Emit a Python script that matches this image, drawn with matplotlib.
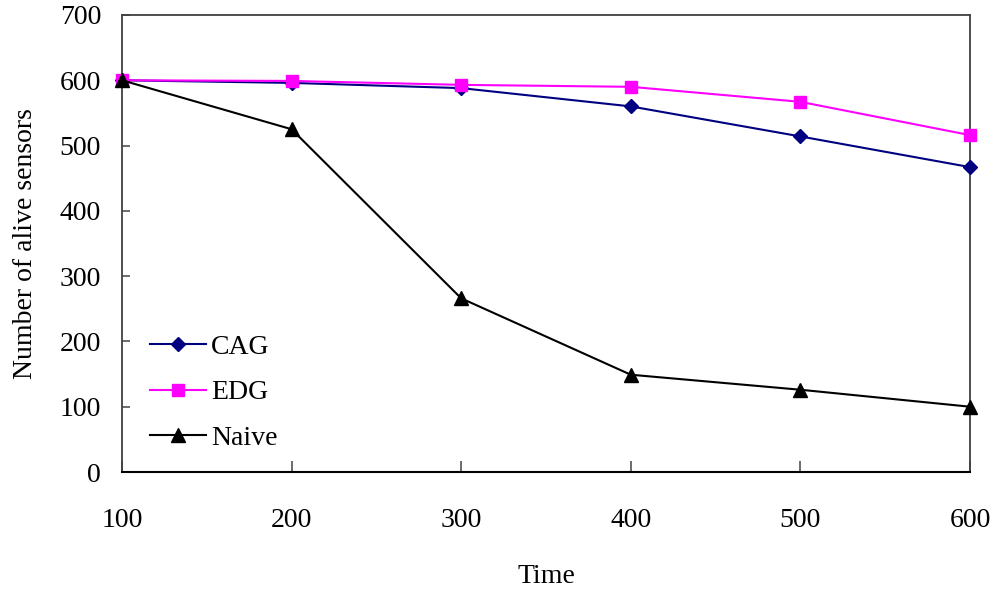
import matplotlib
matplotlib.use("Agg")
import matplotlib.pyplot as plt

# Simulation results: number of alive sensors over time
time = [100, 200, 300, 400, 500, 600]
cag = [600, 596, 588, 560, 514, 467]
edg = [600, 599, 593, 590, 567, 516]
naive = [600, 525, 266, 149, 126, 100]

y_ticks = [0, 100, 200, 300, 400, 500, 600, 700]

plt.rcParams['font.family'] = ['Liberation Serif', 'DejaVu Serif']

fig = plt.figure(figsize=(9.96, 5.95), dpi=100)
ax = fig.add_axes([122 / 996, 1 - 472 / 595, (970 - 122) / 996, (472 - 15) / 595])

ax.plot(time, cag, color='#000080', lw=1.5, marker='D', ms=7.5,
        label='CAG', clip_on=False, zorder=3)
ax.plot(time, edg, color='#FF00FF', lw=1.5, marker='s', ms=8,
        label='EDG', clip_on=False, zorder=3)
ax.plot(time, naive, color='black', lw=1.5, marker='^', ms=10,
        label='Naive', clip_on=False, zorder=4)

ax.set_xlim(100, 600)
ax.set_ylim(0, 700)
ax.set_xticks(time)
ax.set_yticks(y_ticks)

for side in ('top', 'right', 'left'):
    ax.spines[side].set_color('#404040')
    ax.spines[side].set_linewidth(1.3)
ax.spines['bottom'].set_color('black')
ax.spines['bottom'].set_linewidth(1.5)

fs = 20
ax.tick_params(axis='x', direction='in', length=8, width=1.3, color='#606060',
               pad=26, labelsize=fs)
ax.tick_params(axis='y', direction='in', length=6, width=1.3, color='#606060',
               pad=15, labelsize=fs)

ax.set_xlabel('Time', fontsize=fs, labelpad=22)
ax.set_ylabel('Number of alive sensors', fontsize=fs, labelpad=16)

leg = ax.legend(loc='upper left', bbox_to_anchor=(0.02, 0.325), frameon=False,
                fontsize=fs, handlelength=2.0, handletextpad=0.2,
                labelspacing=0.72, borderaxespad=0)

fig.savefig('out.png', dpi=100, facecolor='white')
